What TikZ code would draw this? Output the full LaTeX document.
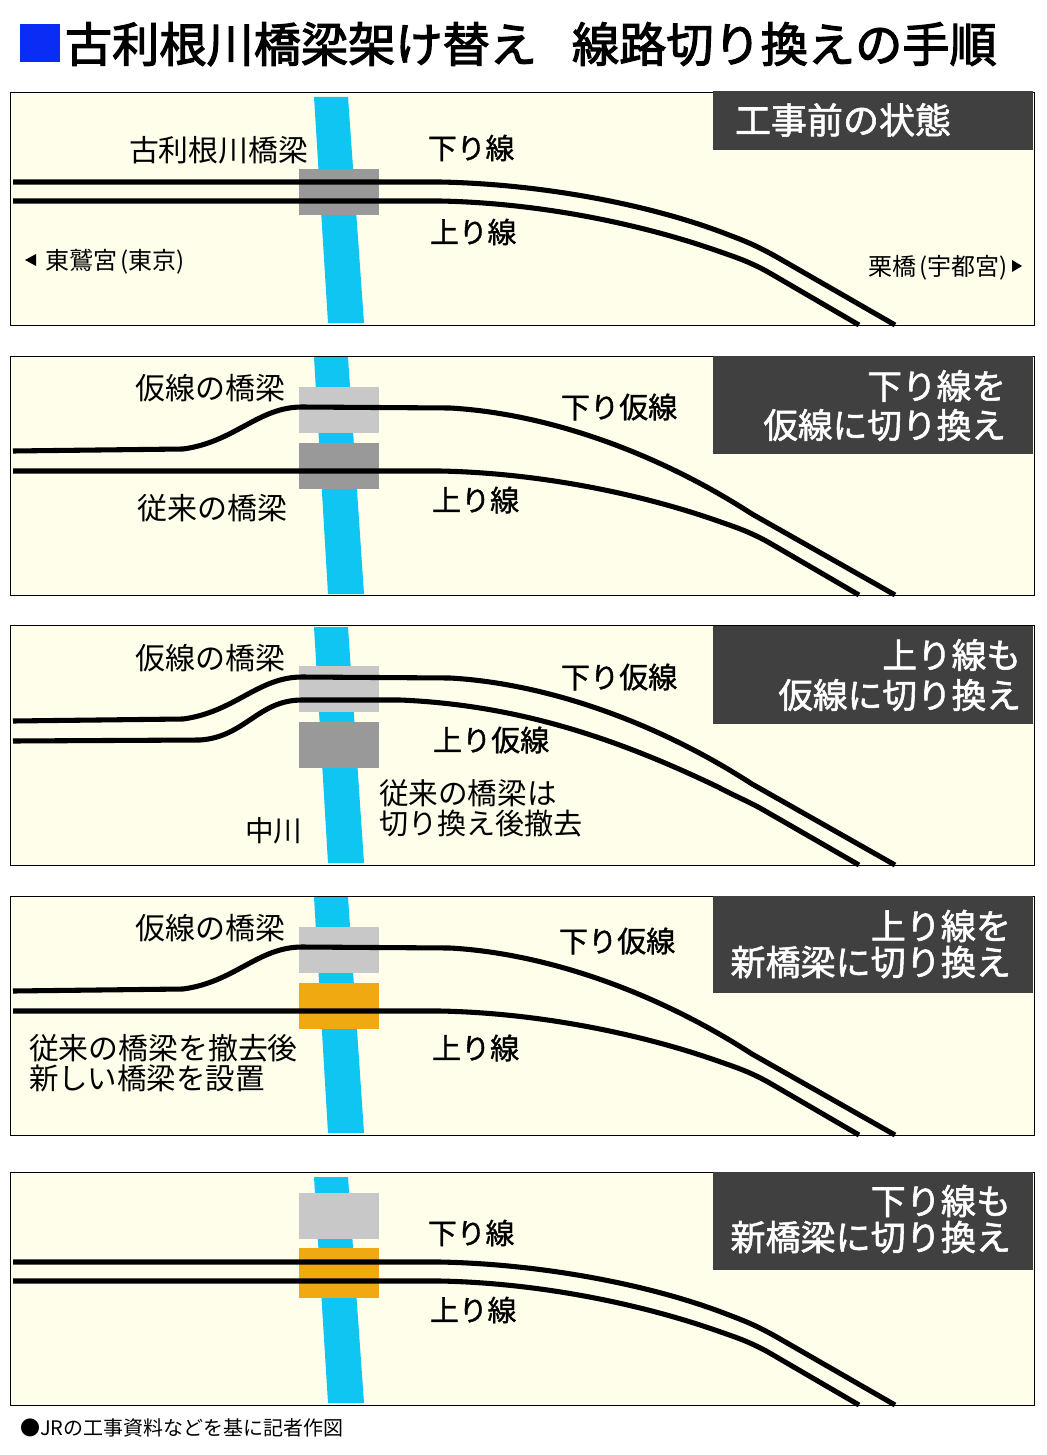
\documentclass[tikz,border=0pt]{standalone}
\usepackage{fontspec}
\newfontfamily\cjk{Noto Sans CJK JP}
\newfontfamily\cjkm[FakeBold=1.2]{Noto Sans CJK JP}
\newfontfamily\cjkh[FakeBold=1.6]{Noto Sans CJK JP}
\newfontfamily\cjkt[FakeBold=2.5]{Noto Sans CJK JP}
\definecolor{panelbg}{HTML}{FEFEEB}
\definecolor{riverc}{HTML}{0FC5F2}
\definecolor{oldbr}{HTML}{999999}
\definecolor{tempbr}{HTML}{C8C8C8}
\definecolor{newbr}{HTML}{F1A911}
\definecolor{headc}{HTML}{404040}
\definecolor{bluesq}{HTML}{0A2CF5}
\tikzset{
  x=.75pt,y=-.75pt,
  panel/.style={draw=black,fill=panelbg,line width=.6pt},
  rail/.style={draw=black,line width=3.8pt,line join=round},
  tx/.style={inner sep=0pt,outer sep=0pt,text height={.88*#1pt},text depth={.12*#1pt},font=\cjk\fontsize{#1}{#1}\selectfont},
  txm/.style={inner sep=0pt,outer sep=0pt,text height={.88*#1pt},text depth={.12*#1pt},font=\cjkm\fontsize{#1}{#1}\selectfont},
  head/.style={inner sep=0pt,outer sep=0pt,text height={.88*#1pt},text depth={.12*#1pt},text=white,font=\cjkh\fontsize{#1}{#1}\selectfont},
  ttl/.style={inner sep=0pt,outer sep=0pt,text height={.88*#1pt},text depth={.12*#1pt},font=\cjkt\fontsize{#1}{#1}\selectfont},
}
\newcommand\upperstd{(13,182) -- (440,182) .. controls (540,184) and (650,204) .. (729,235) .. controls (745,241) and (755,245) .. (775,256) -- (895,325)}
\newcommand\lowerstd{(13,201) -- (440,201) .. controls (540,203) and (640,224) .. (715,250) .. controls (735,257) and (748,261) .. (768,272) -- (859,325)}
\newcommand\uppertemp{(13,181) -- (183,179) .. controls (235,172) and (258,137) .. (302,137) -- (450,138) .. controls (540,143) and (650,178) .. (752,244) -- (895,325)}
\newcommand\lowertemp{(13,201) -- (200,200) .. controls (245,197) and (258,160) .. (302,160) -- (400,160) .. controls (520,165) and (620,200) .. (718,247) .. controls (735,256) and (745,260) .. (760,268) -- (859,325)}
\begin{document}
\begin{tikzpicture}
\useasboundingbox (0,0) rectangle (1046,1455);
\fill[white] (0,0) rectangle (1046,1455);
% title
\fill[bluesq] (20,24) rectangle (60,62);
\node[ttl=35.4,anchor=west] (title1) at (65,44) {古利根川橋梁架け替え};
\node[ttl=35.4,anchor=west] (title2) at (572,44) {線路切り換えの手順};
% panels
\draw[panel] (10,92) rectangle (1034,325);
\draw[panel] (10,356) rectangle (1034,595);
\draw[panel] (10,625) rectangle (1034,865);
\draw[panel] (10,896) rectangle (1034,1135);
\draw[panel] (10,1172) rectangle (1034,1405);
% rivers
\fill[riverc] (314,97) -- (348,97) -- (364,323) -- (328,323) -- cycle;
\fill[riverc] (314,357) -- (348,357) -- (364,594) -- (328,594) -- cycle;
\fill[riverc] (314,627) -- (348,627) -- (364,863) -- (328,863) -- cycle;
\fill[riverc] (314,897) -- (348,897) -- (364,1133) -- (328,1133) -- cycle;
\fill[riverc] (314,1177) -- (348,1177) -- (364,1403) -- (328,1403) -- cycle;
% bridges
\fill[oldbr] (299,169) rectangle (379,215);
\fill[tempbr] (299,387) rectangle (379,433);
\fill[oldbr] (299,443) rectangle (379,489);
\fill[tempbr] (299,666) rectangle (379,712);
\fill[oldbr] (299,722) rectangle (379,768);
\fill[tempbr] (299,927) rectangle (379,973);
\fill[newbr] (299,983) rectangle (379,1029);
\fill[tempbr] (299,1193) rectangle (379,1239);
\fill[newbr] (299,1248) rectangle (379,1298);
% tracks
\draw[rail] \upperstd;
\draw[rail] \lowerstd;
\begin{scope}[shift={(0,270)}]
\draw[rail] \uppertemp;
\draw[rail] \lowerstd;
\end{scope}
\begin{scope}[shift={(0,540)}]
\draw[rail] \uppertemp;
\draw[rail] \lowertemp;
\end{scope}
\begin{scope}[shift={(0,810)}]
\draw[rail] \uppertemp;
\draw[rail] \lowerstd;
\end{scope}
\begin{scope}[shift={(0,1080)}]
\draw[rail] \upperstd;
\draw[rail] \lowerstd;
\end{scope}
% header bars
\fill[headc] (713,91) rectangle (1033,150);
\fill[headc] (713,356) rectangle (1033,454);
\fill[headc] (713,626) rectangle (1033,724);
\fill[headc] (713,896) rectangle (1033,993);
\fill[headc] (713,1172) rectangle (1033,1270);
\node[head=27,anchor=west] (h1) at (735,120) {工事前の状態};
\node[head=26,anchor=east] (h2a) at (1006,386) {下り線を};
\node[head=26,anchor=east] (h2b) at (1006,425) {仮線に切り換え};
\node[head=26,anchor=east] (h3a) at (1021,655) {上り線も};
\node[head=26,anchor=east] (h3b) at (1021,695) {仮線に切り換え};
\node[head=26.3,anchor=east] (h4a) at (1011,926) {上り線を};
\node[head=26.3,anchor=east] (h4b) at (1011,962) {新橋梁に切り換え};
\node[head=26.3,anchor=east] (h5a) at (1011,1201) {下り線も};
\node[head=26.3,anchor=east] (h5b) at (1011,1237) {新橋梁に切り換え};
% panel 1 labels
\node[tx=22.4,anchor=west] (a1) at (129,150) {古利根川橋梁};
\node[txm=21.6,anchor=west] (a2) at (428,148) {下り線};
\node[txm=21.6,anchor=west] (a3) at (430,232) {上り線};
\fill[black] (25,260) -- (36,254) -- (36,266) -- cycle;
\node[tx=18,anchor=west] (a4) at (45,260) {東鷲宮\kern.15em(東京)\kern.05em};
\node[tx=18,anchor=east] (a5) at (1008,266) {栗橋\kern.12em(宇都宮)};
\fill[black] (1022,266) -- (1012,260) -- (1012,272) -- cycle;
% panel 2 labels
\node[tx=22.5,anchor=west] (b1) at (135,388) {仮線の橋梁};
\node[tx=22.5,anchor=west] (b2) at (137,508) {従来の橋梁};
\node[txm=21.8,anchor=west] (b3) at (561,407) {下り仮線};
\node[txm=21.8,anchor=west] (b4) at (432,500) {上り線};
% panel 3 labels
\node[tx=22.5,anchor=west] (c1) at (135,658) {仮線の橋梁};
\node[txm=21.8,anchor=west] (c2) at (561,677) {下り仮線};
\node[txm=21.8,anchor=west] (c3) at (433,740) {上り仮線};
\node[tx=22.2,anchor=west] (c4) at (379,793) {従来の橋梁は};
\node[tx=21.8,anchor=west] (c5) at (379,823) {切り換え後撤去};
\node[tx=21.5,anchor=west] (c6) at (245,831) {中川};
% panel 4 labels
\node[tx=22.5,anchor=west] (d1) at (135,928) {仮線の橋梁};
\node[txm=21.8,anchor=west] (d2) at (559,941) {下り仮線};
\node[txm=21.8,anchor=west] (d3) at (432,1048) {上り線};
\node[tx=22.4,anchor=west] (d4) at (29,1048) {従来の橋梁を撤去後};
\node[tx=22.1,anchor=west] (d5) at (29,1078) {新しい橋梁を設置};
% panel 5 labels
\node[txm=21.6,anchor=west] (e1) at (428,1233) {下り線};
\node[txm=21.6,anchor=west] (e2) at (430,1310) {上り線};
% footer
\node[tx=15,anchor=west] (f1) at (20,1428) {●JRの工事資料などを基に記者作図};
\end{tikzpicture}
\end{document}
